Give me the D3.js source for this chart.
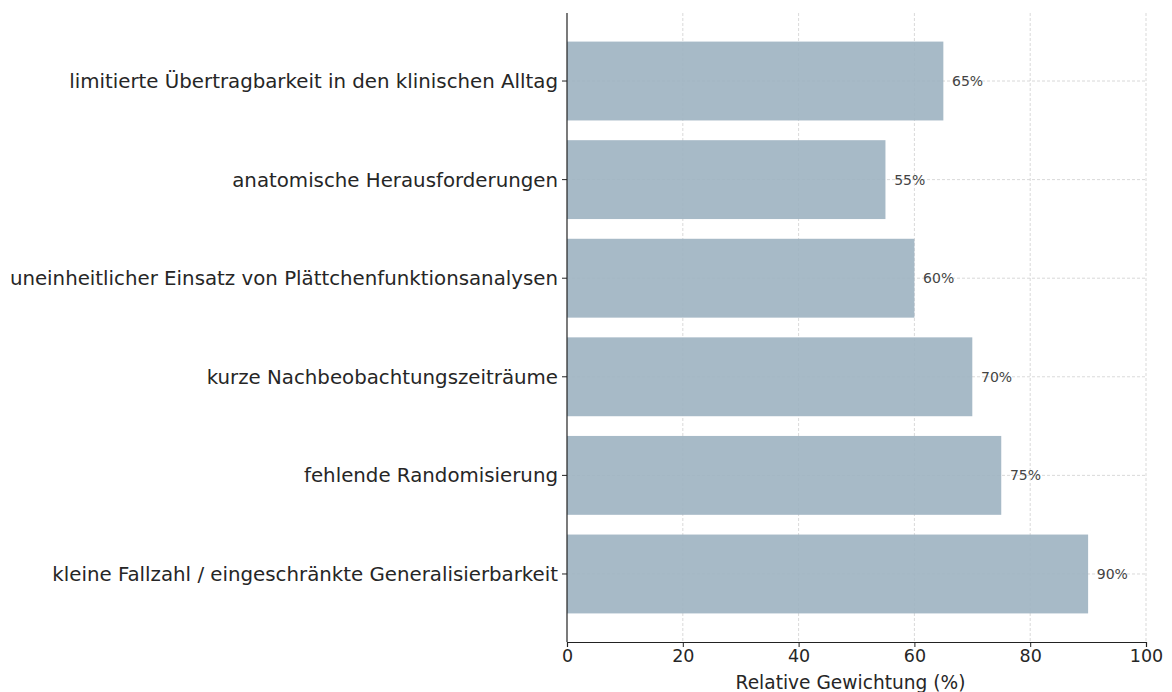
<!DOCTYPE html>
<html>
<head>
<meta charset="utf-8">
<script src="https://cdn.jsdelivr.net/npm/d3@7"></script>
<style>
  body { margin: 0; background: #fff; }
  svg { display: block; font-family: "DejaVu Sans", sans-serif; }
</style>
</head>
<body>
<svg id="chart" width="1172" height="692"></svg>
<script>
// Gründe (top to bottom) and their relative weight in percent
const categories = [
  "limitierte Übertragbarkeit in den klinischen Alltag",
  "anatomische Herausforderungen",
  "uneinheitlicher Einsatz von Plättchenfunktionsanalysen",
  "kurze Nachbeobachtungszeiträume",
  "fehlende Randomisierung",
  "kleine Fallzahl / eingeschränkte Generalisierbarkeit"
];
const values = [65, 55, 60, 70, 75, 90];
const xTicks = [0, 20, 40, 60, 80, 100];
const xLabel = "Relative Gewichtung (%)";

const svg = d3.select("#chart");
const margin = { left: 567, right: 26, top: 13, bottom: 50 };
const W = 1172, H = 692;
const innerW = W - margin.left - margin.right;
const innerH = H - margin.top - margin.bottom;

const g = svg.append("g").attr("transform", `translate(${margin.left},${margin.top})`);

const x = d3.scaleLinear().domain([0, 100]).range([0, innerW]);

// category slots are 1 unit apart, bars 0.8 units tall, with a margin at both ends
const n = categories.length;
const pad = 0.69;
const yc = d3.scaleLinear().domain([-pad, n - 1 + pad]).range([0, innerH]);
const barH = yc(0.8) - yc(0);

// grid
const gridStyle = sel => sel.attr("stroke", "#cfcfcf").attr("stroke-width", 0.8).attr("stroke-dasharray", "3,2");
g.append("g").selectAll("line").data(xTicks.slice(1)).join("line")
  .attr("x1", d => x(d)).attr("x2", d => x(d)).attr("y1", 0).attr("y2", innerH)
  .call(gridStyle);
g.append("g").selectAll("line").data(categories).join("line")
  .attr("x1", 0).attr("x2", innerW).attr("y1", (d, i) => yc(i)).attr("y2", (d, i) => yc(i))
  .call(gridStyle);

// bars
g.append("g").selectAll("rect").data(values).join("rect")
  .attr("x", x(0))
  .attr("y", (d, i) => yc(i) - barH / 2)
  .attr("width", d => x(d) - x(0))
  .attr("height", barH)
  .attr("fill", "#9db3c1")
  .attr("fill-opacity", 0.9);

// value labels
g.append("g").selectAll("text").data(values).join("text")
  .attr("x", d => x(d + 1.5))
  .attr("y", (d, i) => yc(i))
  .attr("dy", "0.35em")
  .attr("font-size", 14)
  .attr("fill", "#444")
  .text(d => d + "%");

// y axis
const yAxis = g.append("g");
yAxis.append("line").attr("x1", 0).attr("x2", 0).attr("y1", 0).attr("y2", innerH)
  .attr("stroke", "#222").attr("stroke-width", 1.2);
yAxis.selectAll("line.tick").data(categories).join("line").attr("class", "tick")
  .attr("x1", -5).attr("x2", 0).attr("y1", (d, i) => yc(i)).attr("y2", (d, i) => yc(i))
  .attr("stroke", "#222").attr("stroke-width", 1);
yAxis.selectAll("text").data(categories).join("text")
  .attr("x", -9).attr("y", (d, i) => yc(i)).attr("dy", "0.35em")
  .attr("text-anchor", "end").attr("font-size", 19.8).attr("fill", "#262626")
  .text(d => d);

// x axis
const xAxis = g.append("g").attr("transform", `translate(0,${innerH})`)
  .call(d3.axisBottom(x).tickValues(xTicks).tickSize(5).tickPadding(3).tickFormat(d3.format("d")));
xAxis.select(".domain").attr("stroke", "#222").attr("stroke-width", 1.2);
xAxis.selectAll(".tick line").attr("stroke", "#222");
xAxis.selectAll(".tick text").attr("font-size", 17.5).attr("fill", "#262626")
  .attr("font-family", "DejaVu Sans, sans-serif");

g.append("text")
  .attr("x", innerW / 2 - 6).attr("y", innerH + 47)
  .attr("text-anchor", "middle").attr("font-size", 18.6).attr("fill", "#262626")
  .text(xLabel);
</script>
</body>
</html>
